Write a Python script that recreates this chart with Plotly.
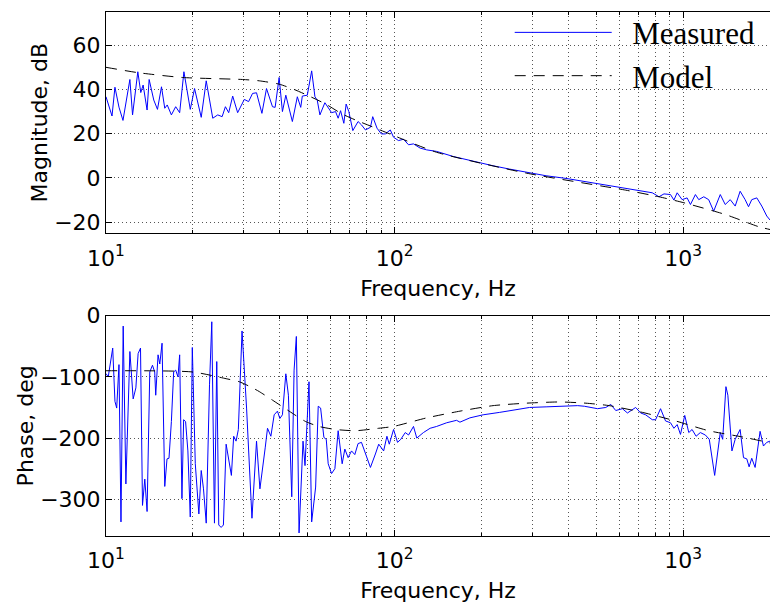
import plotly.graph_objects as go

# ---------------- Magnitude (top) ----------------
mag_freq = [10.0, 10.49, 10.74, 11.09, 11.45, 12.10, 12.36, 12.89, 13.20, 13.45,
            13.88, 14.11, 14.64, 15.08, 15.57, 15.98, 16.30, 16.85, 17.44, 18.00,
            18.62, 19.59, 20.27, 21.38, 22.25, 23.44, 24.39, 25.26, 25.93, 26.62,
            27.48, 28.59, 30.15, 31.20, 32.20, 33.24, 34.70, 35.99, 37.75, 38.56,
            39.81, 40.87, 41.99, 44.24, 46.03, 47.30, 47.90, 49.84, 51.61, 52.98,
            53.95, 55.12, 57.35, 58.88, 60.50, 62.45, 63.75, 65.00, 66.72, 67.95,
            69.42, 71.67, 74.74, 76.79, 79.27, 82.48, 84.00, 86.92, 90.00, 92.90,
            96.65, 99.21, 103.2, 107.4, 111.8, 116.3, 122.6, 129.2, 139.9, 159.8,
            182.4, 200.0, 219.5, 250.6, 285.9, 335.1, 392.8, 436.9, 498.4, 569.0,
            632.5, 703.7, 781.7, 824.8, 858.2, 904.1, 929.0, 953.5, 992.0, 1032,
            1060, 1103, 1133, 1179, 1226, 1276, 1345, 1399, 1456, 1515,
            1576, 1640, 1685, 1729, 1800, 1873, 1949, 2000]
mag_meas = [36.7, 28.0, 41.0, 32.0, 26.0, 44.5, 28.5, 48.0, 38.6, 42.0,
            30.7, 44.5, 35.2, 31.0, 41.2, 31.5, 33.0, 28.5, 32.2, 29.5,
            48.0, 31.0, 40.4, 27.4, 43.9, 27.0, 28.5, 27.7, 32.2, 29.5,
            37.0, 29.5, 35.5, 34.5, 38.2, 38.5, 29.2, 40.4, 32.2, 31.9,
            45.4, 30.0, 37.4, 25.5, 36.7, 31.9, 37.0, 37.4, 48.4, 36.7,
            35.2, 28.5, 34.0, 31.5, 29.5, 30.0, 27.0, 30.4, 24.7, 33.4,
            30.0, 21.4, 25.5, 24.0, 21.7, 22.9, 27.7, 22.5, 19.9, 19.9,
            21.7, 18.4, 16.9, 17.5, 15.0, 15.4, 13.5, 12.7, 12.0, 9.7,
            7.9, 6.7, 5.5, 4.0, 2.5, 1.0, -0.2, -1.2, -2.5, -3.7,
            -4.9, -5.8, -6.7, -8.5, -7.2, -7.5, -10.0, -6.7, -9.8, -9.0,
            -12.0, -7.5, -9.8, -8.5, -9.8, -15.0, -7.5, -12.0, -9.8, -12.7,
            -6.0, -9.8, -13.0, -9.8, -9.0, -12.7, -17.2, -19.0]

mag_model_freq = [10.0, 12.89, 18.44, 29.75, 33.96, 39.81, 44.85, 49.84, 57.7, 65.83,
                  73.2, 83.5, 97.9, 139.9, 285.9, 632.0, 824.8, 1006, 1399, 1825, 2000]
mag_model = [50.0, 47.6, 45.4, 44.5, 43.9, 42.4, 40.0, 37.4, 33.4, 28.9,
             26.2, 23.2, 19.5, 11.6, 2.2, -5.5, -8.5, -11.2, -16.5, -22.0, -23.3]

# ---------------- Phase (bottom) ----------------
ph_freq = [10.0, 10.18, 10.55, 10.74, 10.89, 11.09, 11.27, 11.47, 11.72, 12.10,
           12.42, 12.69, 12.92, 13.17, 13.38, 13.63, 13.88, 14.18, 14.49, 14.75,
           14.87, 15.15, 15.36, 15.64, 15.98, 16.27, 16.53, 16.85, 17.16, 17.44,
           17.76, 18.00, 18.33, 18.58, 18.87, 19.22, 19.59, 19.91, 20.39, 20.98,
           21.38, 21.77, 22.25, 22.84, 23.26, 23.76, 24.20, 24.59, 25.06, 25.52,
           26.08, 26.62, 27.20, 27.70, 28.23, 28.75, 29.61, 30.70, 32.05, 33.24,
           34.15, 35.62, 36.28, 37.27, 38.26, 39.28, 40.03, 40.87, 41.99, 42.87,
           44.03, 44.85, 45.67, 46.67, 48.17, 48.94, 50.52, 51.61, 53.27, 54.38,
           55.43, 56.90, 57.98, 58.88, 60.50, 62.11, 63.75, 65.83, 67.25, 69.04,
           70.93, 72.81, 74.74, 76.79, 78.83, 80.28, 82.48, 85.82, 88.12, 91.65,
           94.08, 95.88, 99.21, 102.4, 105.1, 108.9, 111.8, 116.3, 119.4, 125.9,
           132.8, 139.9, 151.5, 164.0, 168.5, 182.4, 202.7, 231.4, 257.3, 293.7,
           335.1, 392.8, 431.0, 454.6, 485.6, 505.2, 539.5, 561.4, 584.1, 616.0,
           641.2, 684.6, 712.5, 741.3, 781.7, 802.8, 835.1, 868.9, 904.1, 929.0,
           953.5, 979.0, 1013, 1046, 1074, 1109, 1147, 1194, 1232, 1286,
           1345, 1371, 1407, 1429, 1476, 1515, 1576, 1619, 1662, 1693,
           1729, 1776, 1848, 1898, 1949, 2000]
ph_meas = [-94.6, -100, -53, -140, -151, -80, -337, -17, -275, -58.6,
           -136, -118, -62, -53, -310, -267, -320, -92, -81, -92,
           -130, -64, -79, -45, -279, -234, -233, -173, -92, -89,
           -100, -64, -299, -170, -173, -221, -329, -52, -242, -324,
           -253, -283, -339, -113, -10, -339, -75, -342, -346, -342,
           -210, -237, -261, -197, -205, -186, -25, -151, -331, -205,
           -283, -216, -184, -197, -162, -156, -168, -162, -95, -130,
           -296, -89, -34, -355, -205, -245, -108, -337, -280, -148,
           -151, -199, -202, -242, -258, -250, -188, -242, -218, -232,
           -221, -227, -209, -207, -221, -231, -248, -226, -210, -221,
           -197, -210, -186, -207, -202, -191, -195, -181, -200, -191,
           -184, -181, -175, -171, -174, -167, -162, -158, -154, -150,
           -149, -148, -147, -148, -151, -152, -150, -145, -155, -152,
           -159, -150, -159, -162, -170, -170, -152, -172, -175, -184,
           -178, -194, -163, -191, -186, -197, -191, -195, -202, -261,
           -191, -202, -116, -130, -221, -202, -186, -232, -234, -247,
           -233, -248, -189, -213, -207, -205]

ph_model_freq = [10.0, 19.95, 26.08, 28.98, 32.20, 33.96, 37.75, 43.11, 49.2, 54.68,
                 62.45, 73.2, 88.12, 99.21, 129.2, 168.5, 219.5, 285.9, 372.7, 460.4,
                 554.4, 722.2, 940.7, 1226, 1597, 1921, 2000]
ph_model = [-90, -92, -103, -108, -118, -124, -138, -156, -173, -181,
            -186, -188, -184, -181, -167, -156, -147, -143, -141, -143,
            -147, -158, -172, -188, -198, -206, -208]

freq_tickvals = [10, 100, 1000]
freq_ticktext = ["10<sup>1</sup>", "10<sup>2</sup>", "10<sup>3</sup>"]
minor_vals = [20, 30, 40, 50, 60, 70, 80, 90, 200, 300, 400, 500, 600, 700, 800, 900, 2000]
mag_ticks = [-20, 0, 20, 40, 60]
ph_ticks = [-300, -200, -100, 0]

BLUE = "#0000ff"
sans = "DejaVu Sans, Liberation Sans, Arial, sans-serif"
serif = "Liberation Serif, Times New Roman, serif"
NB = "\u00a0\u00a0"

fig = go.Figure()
fig.add_trace(go.Scatter(x=mag_freq, y=mag_meas, mode="lines", name=NB + "Measured",
                         line=dict(color=BLUE, width=1), xaxis="x", yaxis="y"))
fig.add_trace(go.Scatter(x=mag_model_freq, y=mag_model, mode="lines", name=NB + "Model",
                         line=dict(color="black", width=1, dash="11px,8px", shape="spline", smoothing=0.6),
                         xaxis="x", yaxis="y"))
fig.add_trace(go.Scatter(x=ph_freq, y=ph_meas, mode="lines", showlegend=False,
                         line=dict(color=BLUE, width=1), xaxis="x2", yaxis="y2"))
fig.add_trace(go.Scatter(x=ph_model_freq, y=ph_model, mode="lines", showlegend=False,
                         line=dict(color="black", width=1, dash="11px,8px", shape="spline", smoothing=0.6),
                         xaxis="x2", yaxis="y2"))

grid_col = "#555555"
def xaxis_cfg(anchor):
    return dict(type="log", range=[1, 3.30103], anchor=anchor,
                tickmode="array", tickvals=freq_tickvals, ticktext=freq_ticktext,
                ticks="inside", ticklen=6, tickcolor="black", ticklabelstandoff=5,
                showline=True, linecolor="black", linewidth=1, mirror="allticks",
                showgrid=True, gridcolor=grid_col, griddash="1px,3px", gridwidth=1,
                minor=dict(tickmode="array", tickvals=minor_vals, ticks="inside", ticklen=3,
                           tickcolor="black", showgrid=True, gridcolor=grid_col,
                           griddash="1px,3px", gridwidth=1),
                title=dict(text="Frequency, Hz", font=dict(family=sans, size=22, color="black"), standoff=10),
                tickfont=dict(family=sans, size=22, color="black"),
                zeroline=False)

def yaxis_cfg(anchor, rng, ticks, title, domain):
    return dict(range=rng, anchor=anchor, domain=domain,
                tickmode="array", tickvals=ticks,
                ticks="inside", ticklen=6, tickcolor="black",
                showline=True, linecolor="black", linewidth=1, mirror=False,
                showgrid=True, gridcolor=grid_col, griddash="1px,3px", gridwidth=1,
                zeroline=False,
                title=dict(text=title, font=dict(family=sans, size=22, color="black"), standoff=0),
                tickfont=dict(family=sans, size=22, color="black"))

fig.update_layout(
    width=770, height=610,
    margin=dict(l=106, r=0, t=8, b=74),
    paper_bgcolor="white", plot_bgcolor="white",
    xaxis=xaxis_cfg("y"),
    yaxis=yaxis_cfg("x", [-25, 75], mag_ticks, "Magnitude, dB", [0.5777, 1.0]),
    xaxis2=xaxis_cfg("y2"),
    yaxis2=yaxis_cfg("x2", [-360, 0], ph_ticks, "Phase, deg", [0.0, 0.4205]),
    legend=dict(x=0.608, y=1.012, xanchor="left", yanchor="top", bgcolor="rgba(0,0,0,0)",
                font=dict(family=serif, size=31, color="black"), itemwidth=97,
                tracegroupgap=0),
    showlegend=True,
)

fig.write_html("out.html")
